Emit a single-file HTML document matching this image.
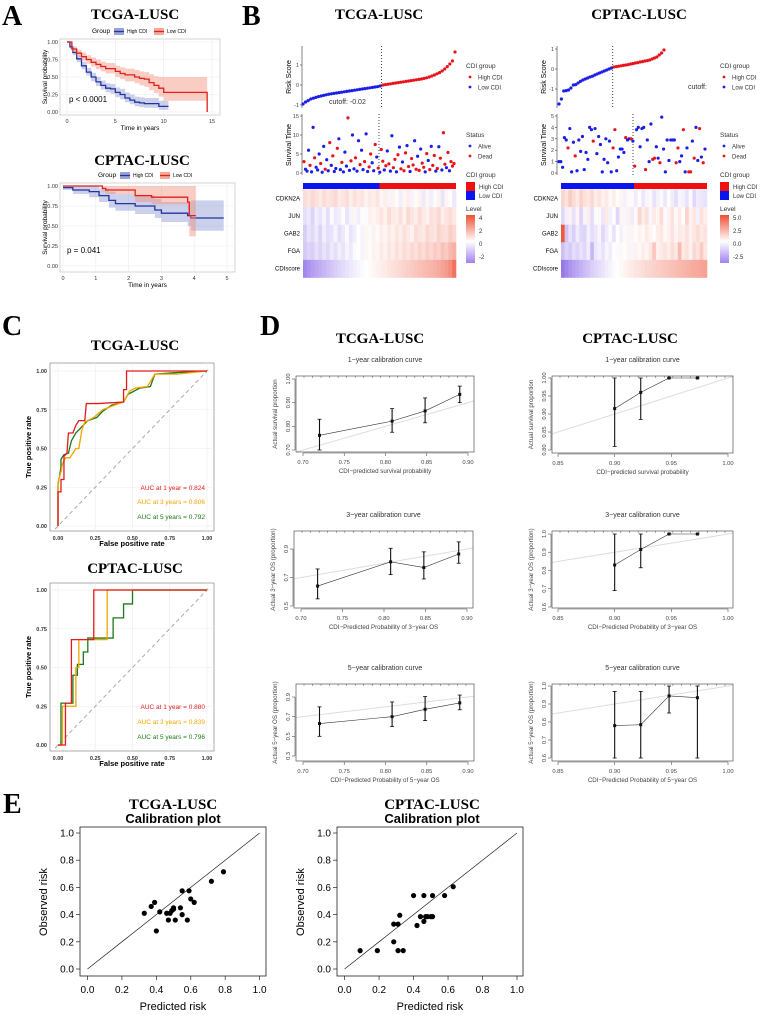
<!DOCTYPE html>
<html><head><meta charset="utf-8">
<style>
html,body{margin:0;padding:0;background:#fff;}
svg{display:block;font-family:"Liberation Sans",sans-serif;}
.ttl{font-family:"Liberation Serif",serif;font-weight:bold;font-size:15px;}
.let{font-family:"Liberation Serif",serif;font-weight:bold;font-size:28px;}
</style></head>
<body>
<svg id="fig" width="760" height="1015" viewBox="0 0 760 1015" xmlns="http://www.w3.org/2000/svg">
<text class="let" x="2" y="25">A</text>
<text class="let" x="242" y="25">B</text>
<text class="let" x="2" y="335">C</text>
<text class="let" x="260" y="335">D</text>
<text class="let" x="3" y="813">E</text>
<text class="ttl" x="135" y="19" text-anchor="middle">TCGA-LUSC</text>
<text class="ttl" x="142" y="165" text-anchor="middle">CPTAC-LUSC</text>
<text class="ttl" x="379" y="19" text-anchor="middle">TCGA-LUSC</text>
<text class="ttl" x="639" y="19" text-anchor="middle">CPTAC-LUSC</text>
<text class="ttl" x="135" y="350" text-anchor="middle">TCGA-LUSC</text>
<text class="ttl" x="135" y="573" text-anchor="middle">CPTAC-LUSC</text>
<text class="ttl" x="380" y="343" text-anchor="middle">TCGA-LUSC</text>
<text class="ttl" x="630" y="343" text-anchor="middle">CPTAC-LUSC</text>
<text class="ttl" x="173" y="809" text-anchor="middle">TCGA-LUSC</text>
<text class="ttl" x="432" y="809" text-anchor="middle">CPTAC-LUSC</text>
<text x="173" y="823" font-size="13" font-weight="bold" text-anchor="middle">Calibration plot</text>
<text x="432" y="823" font-size="13" font-weight="bold" text-anchor="middle">Calibration plot</text>
</svg>
<script>
// ---------- DATA ----------
const kmTcgaHiT=[0,0.3,0.6,1,1.5,2,2.5,3,3.5,4,4.5,5,5.5,6,6.5,7,7.5,8,9,9.5,10.5];
const kmTcgaHiS=[1,0.93,0.85,0.76,0.66,0.57,0.5,0.43,0.38,0.34,0.33,0.28,0.25,0.2,0.17,0.14,0.13,0.12,0.12,0.08,0.08];
const kmTcgaHiL=[1,0.9,0.81,0.71,0.61,0.52,0.44,0.37,0.32,0.28,0.26,0.21,0.18,0.14,0.11,0.08,0.07,0.06,0.06,0.03,0.03];
const kmTcgaHiU=[1,0.96,0.89,0.81,0.72,0.63,0.56,0.5,0.45,0.41,0.4,0.35,0.33,0.28,0.25,0.22,0.21,0.2,0.2,0.16,0.16];
const kmTcgaLoT=[0,0.5,1,1.5,2,2.5,3,3.5,4,5,5.5,6,7,7.5,8,8.5,9,9.5,10,14.5];
const kmTcgaLoS=[1,0.9,0.84,0.79,0.75,0.71,0.68,0.65,0.62,0.58,0.55,0.53,0.5,0.48,0.47,0.42,0.38,0.34,0.28,0.28];
const kmTcgaLoL=[1,0.86,0.79,0.73,0.69,0.65,0.61,0.58,0.55,0.5,0.47,0.44,0.41,0.38,0.36,0.31,0.27,0.22,0.16,0.16];
const kmTcgaLoU=[1,0.94,0.89,0.85,0.81,0.78,0.75,0.72,0.7,0.66,0.64,0.62,0.6,0.58,0.57,0.54,0.51,0.5,0.5,0.5];
const kmCpHiT=[0,0.3,0.8,1.1,1.4,1.6,2.2,2.8,3.0,3.8,3.9,4.9];
const kmCpHiS=[0.98,0.95,0.93,0.88,0.82,0.78,0.75,0.7,0.66,0.63,0.6,0.6];
const kmCpHiL=[0.95,0.9,0.86,0.8,0.73,0.69,0.65,0.6,0.55,0.5,0.44,0.44];
const kmCpHiU=[1,1,1,0.97,0.93,0.9,0.88,0.84,0.8,0.8,0.82,0.82];
const kmCpLoT=[0,1.2,1.3,2.2,2.7,3.8,3.85,4.05];
const kmCpLoS=[1,0.97,0.95,0.88,0.86,0.8,0.63,0.63];
const kmCpLoL=[1,0.93,0.9,0.8,0.77,0.7,0.37,0.37];
const kmCpLoU=[1,1,1,1,1,1,1,1];

const tcgaRisk=[-0.95,-0.85,-0.78,-0.7,-0.66,-0.62,-0.58,-0.55,-0.52,-0.49,-0.46,-0.44,-0.42,-0.4,-0.38,-0.36,-0.34,-0.32,-0.3,-0.28,-0.26,-0.24,-0.22,-0.2,-0.18,-0.16,-0.14,-0.12,-0.1,-0.08,-0.05,0.0,0.02,0.04,0.06,0.08,0.1,0.12,0.14,0.16,0.18,0.2,0.22,0.24,0.26,0.28,0.3,0.33,0.36,0.4,0.45,0.5,0.56,0.62,0.7,0.8,0.92,1.05,1.2,1.65];
const tcgaCutoff=-0.02;
const tcgaTime=[3,1,0.5,6,2,0.3,12,4,1.5,0.8,5,2.5,0.2,7,1,3.5,0.6,8,2,4.5,0.4,1.2,6.5,9,0.9,2.8,0.3,5.5,1.8,14.5,0.7,3.2,10,1.1,4,0.5,8.5,2.2,6,0.9,3,10.3,0.4,1.6,5,2.7,0.6,7.5,4.2,1.3,0.2,6.2,3.1,0.8,1.9,5.8,2.4,0.5,9.8,1.4,3.6,0.3,4.8,6.8,1.1,2.9,0.6,5.3,7.2,1.7,0.4,3.8,2.1,8.5,1,4.4,0.7,6.3,2.6,1.5,0.3,5.1,3.3,0.9,7,2,4.6,0.5,1.2,6.9,3.9,0.8,10.6,2.3,1.4,5.4,0.6,3,1.8,2.5];
const tcgaDead=[1,0,0,0,1,0,0,1,0,0,0,1,0,0,1,0,0,1,0,1,0,0,1,0,0,1,0,0,0,1,0,1,0,0,1,0,0,1,0,0,1,0,0,1,1,0,0,1,0,1,0,1,1,0,1,0,1,0,0,1,1,0,1,0,1,0,1,1,0,1,0,1,1,0,1,0,1,0,1,1,0,1,0,1,0,1,1,0,1,0,1,0,1,1,0,1,0,1,1,1];
const cpRisk=[-1.75,-1.5,-1.1,-1.08,-1.05,-0.95,-0.8,-0.78,-0.7,-0.62,-0.55,-0.5,-0.45,-0.4,-0.36,-0.3,-0.25,-0.2,-0.15,-0.1,-0.05,0.0,0.05,0.1,0.12,0.14,0.16,0.18,0.2,0.22,0.25,0.27,0.3,0.32,0.35,0.37,0.4,0.42,0.45,0.5,0.55,0.6,0.7,0.8,0.95];
const cpCutoff=0.08;
const cpTime=[1,1,0.5,3.1,2.9,2.2,3.9,0.1,2.7,1.5,0.2,2.9,1.9,3.2,0.3,1.8,1.2,4,3.8,2.8,3.9,1.7,3.2,2.5,0.1,1.2,3,0.9,2.8,0.1,2.2,3.8,0.2,1.4,2.1,2.1,1.8,3.1,2.9,3,3,2.8,0.6,3.8,4,2.3,3.9,4,0.3,2.9,1,4.3,1.2,1.3,2.3,1.3,0.9,4.9,2.1,0.1,2.9,1.1,2.9,2.9,2.9,0.9,2.2,1,1.5,3.8,0.1,2.2,0.1,0.1,2.8,1.3,4,1.1,3.9,1.4,0.9,2.1];
const cpDead=[0,0,0,0,0,1,0,0,0,1,0,0,0,0,0,0,0,0,0,1,0,0,0,0,0,0,0,0,0,0,1,1,0,0,0,0,0,1,0,0,1,0,1,0,0,0,0,0,1,0,0,0,1,1,0,0,1,0,0,0,0,0,0,0,0,1,1,0,0,1,0,0,1,1,0,1,0,0,1,0,1,0];

const geneNames=["CDKN2A","JUN","GAB2","FGA","CDIscore"];
const tcgaHeat=[
[0.8,0.6,0.9,0.7,0.5,0.8,0.6,0.7,0.9,0.5,0.6,0.8,0.4,0.7,0.5,0.6,0.3,0.5,0.4,0.6,0.2,0.4,-0.2,0.3,0.1,-0.3,0.2,0.4,-0.2,0.1,0.3,-0.4,0.2,-0.3,0.1,0.3,-0.5,0.2,0.0,-0.4],
[-0.6,-0.4,-0.8,-0.3,-0.5,-0.2,-0.6,-0.1,-0.4,-0.3,0.1,-0.5,-0.2,0.2,-0.3,0.1,-0.1,0.3,0.2,0.4,0.6,0.3,0.8,0.5,0.4,0.7,0.3,0.9,0.6,0.4,0.8,0.5,0.3,0.7,0.6,0.9,0.4,0.6,0.8,0.5],
[-0.9,-0.5,-0.7,-0.4,-0.8,-0.3,-0.6,-0.5,-0.2,-0.6,-0.4,-0.1,-0.5,-0.3,0.0,-0.2,0.2,-0.1,0.3,0.1,0.4,0.2,0.5,0.3,0.6,0.4,0.7,0.5,0.3,0.8,0.6,0.5,0.9,0.7,0.6,1.0,0.8,0.7,1.1,0.9],
[-1.0,-0.8,-0.9,-0.6,-0.8,-0.5,-0.7,-0.4,-0.6,-0.3,-0.5,-0.2,-0.4,-0.1,0.0,-0.2,0.2,0.1,0.3,0.2,0.5,0.3,0.6,0.4,0.7,0.5,0.8,0.6,0.9,0.7,1.0,0.8,1.1,0.9,1.2,1.0,1.4,1.2,1.6,1.8],
[-2.2,-2.0,-1.8,-1.65,-1.5,-1.35,-1.2,-1.05,-0.9,-0.78,-0.66,-0.54,-0.42,-0.3,-0.2,-0.1,0,0.1,0.2,0.3,0.4,0.5,0.6,0.7,0.8,0.9,1.0,1.1,1.2,1.3,1.4,1.5,1.6,1.7,1.8,1.95,2.1,2.3,2.6,3.2]];
const cpHeat=[
[1.2,0.8,1.5,1.0,0.6,1.3,0.9,0.7,1.1,0.5,0.8,0.4,0.6,0.2,0.5,0.1,0.3,-0.3,0.2,-0.1,-0.4,0.1,-0.5,-0.2,0.2,-0.6,-0.3,-0.1,-0.5,0.1,-0.4,-0.7,-0.2,-0.3,-0.6,-0.1,-0.8,-0.4,-0.5,-0.6],
[-0.8,-0.3,0.4,-0.6,0.3,-0.9,-0.2,0.5,-0.7,-0.1,0.2,-0.5,0.6,-0.3,0.1,-0.8,0.3,-0.2,0.4,-0.4,0.2,1.2,0.5,0.9,-0.2,0.6,0.3,1.0,-0.1,0.4,0.8,0.2,0.6,0.1,1.3,0.4,0.7,-0.3,0.9,0.5],
[4.8,-1.2,-0.6,-1.0,-0.4,-0.8,-0.9,-0.3,-0.7,-0.5,-0.2,-0.8,-0.4,-0.1,-0.6,0.0,-0.3,0.2,-0.2,0.3,0.1,0.4,0.2,0.6,0.3,0.1,0.5,0.7,0.2,0.4,0.8,0.3,0.6,0.5,0.9,0.4,0.7,1.0,0.6,0.8],
[-1.3,-0.9,-1.1,-0.7,-0.9,-0.6,-0.8,-0.4,-1.5,-0.5,-0.3,-0.6,-0.2,-0.4,0.0,-0.1,0.2,0.1,0.3,-0.2,0.4,0.2,0.5,0.3,0.7,1.6,0.4,0.6,0.8,0.5,1.0,0.7,2.0,0.6,0.9,0.4,1.1,0.8,1.5,0.7],
[-2.8,-2.5,-2.2,-2.0,-1.8,-1.6,-1.4,-1.2,-1.0,-0.85,-0.7,-0.55,-0.4,-0.25,-0.1,0.05,0.2,0.35,0.5,0.62,0.74,0.86,0.98,1.1,1.2,1.3,1.4,1.5,1.6,1.7,1.8,1.9,2.0,2.1,2.2,2.3,2.4,2.5,2.6,2.7]];

const rocTcgaRed=[[0,0],[0,0.22],[0.02,0.22],[0.02,0.3],[0.04,0.3],[0.04,0.45],[0.06,0.47],[0.07,0.6],[0.1,0.6],[0.12,0.65],[0.14,0.68],[0.18,0.68],[0.19,0.79],[0.27,0.79],[0.44,0.8],[0.44,0.88],[0.46,0.88],[0.46,1],[1,1]];
const rocTcgaOrange=[[0,0],[0,0.28],[0.02,0.35],[0.03,0.4],[0.05,0.44],[0.08,0.44],[0.1,0.47],[0.12,0.5],[0.14,0.5],[0.16,0.62],[0.18,0.67],[0.24,0.7],[0.3,0.75],[0.38,0.78],[0.44,0.8],[0.48,0.87],[0.52,0.89],[0.6,0.9],[0.65,0.98],[0.8,0.98],[1,1]];
const rocTcgaGreen=[[0,0],[0,0.27],[0.01,0.32],[0.02,0.38],[0.02,0.43],[0.04,0.46],[0.07,0.47],[0.09,0.55],[0.12,0.6],[0.15,0.63],[0.2,0.68],[0.26,0.7],[0.3,0.74],[0.36,0.78],[0.44,0.8],[0.47,0.85],[0.55,0.89],[0.62,0.9],[0.65,0.98],[0.8,0.99],[1,1]];
const rocCpRed=[[0,0],[0.05,0],[0.05,0.27],[0.09,0.27],[0.09,0.68],[0.24,0.68],[0.24,1],[1,1]];
const rocCpOrange=[[0,0],[0.03,0],[0.03,0.25],[0.12,0.25],[0.12,0.5],[0.14,0.5],[0.14,0.68],[0.33,0.68],[0.33,1],[1,1]];
const rocCpGreen=[[0,0],[0.02,0],[0.02,0.27],[0.1,0.27],[0.1,0.45],[0.13,0.45],[0.13,0.52],[0.17,0.52],[0.17,0.6],[0.2,0.6],[0.2,0.69],[0.37,0.69],[0.37,0.82],[0.44,0.82],[0.44,0.91],[0.5,0.91],[0.5,1],[1,1]];
const aucTcga=["AUC at 1 year = 0.824","AUC at 3 years = 0.806","AUC at 5 years = 0.792"];
const aucCp=["AUC at 1 year = 0.880","AUC at 3 years = 0.839","AUC at 5 years = 0.796"];

const calTcgaX=[0.72,0.808,0.848,0.89];
const calTcga1Y=[0.762,0.822,0.865,0.935], calTcga1Lo=[0.70,0.775,0.815,0.90], calTcga1Hi=[0.83,0.875,0.92,0.97];
const calTcga3Y=[0.64,0.81,0.77,0.865], calTcga3Lo=[0.55,0.72,0.69,0.80], calTcga3Hi=[0.76,0.905,0.88,0.95];
const calTcga5Y=[0.63,0.70,0.775,0.84], calTcga5Lo=[0.5,0.6,0.66,0.77], calTcga5Hi=[0.8,0.85,0.905,0.92];
const calCpX=[0.90,0.923,0.948,0.973];
const calCp1Y=[0.915,0.96,1.0,1.0], calCp1Lo=[0.81,0.885,1.0,1.0], calCp1Hi=[1,1,1,1];
const calCp3Y=[0.83,0.915,1.0,1.0], calCp3Lo=[0.69,0.815,1,1], calCp3Hi=[1,1,1,1];
const calCp5Y=[0.78,0.785,0.945,0.935], calCp5Lo=[0.6,0.6,0.85,0.6], calCp5Hi=[0.97,0.97,1,1];

const eTcgaPred=[0.33,0.37,0.39,0.40,0.42,0.46,0.47,0.48,0.49,0.50,0.50,0.51,0.54,0.55,0.55,0.58,0.59,0.60,0.62,0.72,0.79];
const eTcgaObs=[0.41,0.46,0.49,0.28,0.42,0.41,0.36,0.41,0.43,0.45,0.44,0.36,0.45,0.40,0.575,0.36,0.575,0.515,0.49,0.645,0.715];
const eCpPred=[0.09,0.19,0.285,0.285,0.31,0.32,0.31,0.34,0.40,0.42,0.44,0.46,0.46,0.47,0.48,0.50,0.51,0.51,0.58,0.63];
const eCpObs=[0.135,0.135,0.2,0.33,0.33,0.395,0.135,0.135,0.54,0.32,0.385,0.35,0.54,0.385,0.385,0.385,0.385,0.54,0.54,0.605];

// ---------- HELPERS ----------
const NS="http://www.w3.org/2000/svg";
const svg=document.getElementById("fig");
function add(p,tag,a,name){
  const e=document.createElementNS(NS,tag);
  for(const k in a) e.setAttribute(k,a[k]);
  
  
  p.appendChild(e); return e;
}
function txt(p,x,y,s,size,name,opts){
  const a={x:x,y:y,"font-size":size};
  if(opts) for(const k in opts) a[k]=opts[k];
  const t=add(p,"text",a,name); t.textContent=s; return t;
}
function lin(d0,d1,r0,r1){return v=>r0+(v-d0)*(r1-r0)/(d1-d0);}
function grp(name){return add(svg,"g",{},name);}

// ---------- KM ----------
function km(name,box,xs,ys,xt,yt,xlabs,series,pText,pPos){
  const g=grp(name);
  add(g,"rect",{x:box[0],y:box[1],width:box[2]-box[0],height:box[3]-box[1],fill:"#fff",stroke:"#bbb","stroke-width":0.6},"plot-panel");
  xt.forEach(v=>{add(g,"line",{x1:xs(v),x2:xs(v),y1:box[1],y2:box[3],stroke:"#ebebeb","stroke-width":0.6},"x-grid");});
  yt.forEach(v=>{add(g,"line",{x1:box[0],x2:box[2],y1:ys(v),y2:ys(v),stroke:"#ebebeb","stroke-width":0.6},"y-grid");});
  series.forEach(s=>{
    let up="",lo="";
    for(let i=0;i<s.t.length;i++){
      const x0=xs(s.t[i]), x1=xs(i<s.t.length-1?s.t[i+1]:s.t[i]);
      up+=(i?"L":"M")+x0+","+ys(s.u[i])+"L"+x1+","+ys(s.u[i]);
      lo="L"+x1+","+ys(s.l[i])+"L"+x0+","+ys(s.l[i])+lo;
    }
    add(g,"path",{d:up+lo+"Z",fill:s.band,"fill-opacity":0.45,stroke:"none"},"confidence-band");
    let d="";
    for(let i=0;i<s.t.length;i++){
      const x0=xs(s.t[i]), x1=xs(i<s.t.length-1?s.t[i+1]:s.t[i]);
      d+=(i?"L"+x0+","+ys(s.s[i]):"M"+x0+","+ys(s.s[i]))+"L"+x1+","+ys(s.s[i]);
    }
    if(s.end!==undefined) d+="L"+xs(s.t[s.t.length-1])+","+ys(s.end);
    add(g,"path",{d:d,fill:"none",stroke:s.col,"stroke-width":1.3},"survival-curve");
  });
  xt.forEach((v,i)=>{txt(g,xs(v),box[3]+8,xlabs[i],5.5,"x-tick-label",{"text-anchor":"middle",fill:"#333"});});
  yt.forEach(v=>{txt(g,box[0]-2,ys(v)+2,v.toFixed(2),5.5,"y-tick-label",{"text-anchor":"end",fill:"#333"});});
  txt(g,(box[0]+box[2])/2,box[3]+15,"Time in years",6.5,"x-axis-title",{"text-anchor":"middle"});
  const cy=(box[1]+box[3])/2;
  txt(g,box[0]-13,cy,"Survival probability",6.5,"y-axis-title",{"text-anchor":"middle",transform:"rotate(-90 "+(box[0]-13)+" "+cy+")"});
  txt(g,pPos[0],pPos[1],pText,8,"p-value",{});
}
function kmLegend(x,y){
  const g=grp("km-legend");
  txt(g,x,y+2,"Group",6.5,"legend-title",{});
  add(g,"rect",{x:x+22,y:y-3,width:10,height:7,fill:"#9aa3d6"},"legend-key-high");
  add(g,"line",{x1:x+22,x2:x+32,y1:y+0.5,y2:y+0.5,stroke:"#2333a0","stroke-width":1.3},"legend-line-high");
  txt(g,x+35,y+2,"High CDI",5,"legend-high",{});
  add(g,"rect",{x:x+62,y:y-3,width:10,height:7,fill:"#f4a99a"},"legend-key-low");
  add(g,"line",{x1:x+62,x2:x+72,y1:y+0.5,y2:y+0.5,stroke:"#e0201b","stroke-width":1.3},"legend-line-low");
  txt(g,x+75,y+2,"Low CDI",5,"legend-low",{});
}
kmLegend(92,31);
km("km-tcga",[60,39,220,115],lin(0,15,67,212),lin(0,1,112,42),[0,5,10,15],[0,0.25,0.5,0.75,1],["0","5","10","15"],
 [{t:kmTcgaHiT,s:kmTcgaHiS,l:kmTcgaHiL,u:kmTcgaHiU,col:"#2333a0",band:"#8c96d2"},
  {t:kmTcgaLoT,s:kmTcgaLoS,l:kmTcgaLoL,u:kmTcgaLoU,col:"#e0201b",band:"#f3907c",end:0}],"p < 0.0001",[69,102]);
kmLegend(98,175);
km("km-cptac",[60,183,235,272],lin(0,5,63,227),lin(0,1,266,186),[0,1,2,3,4,5],[0,0.25,0.5,0.75,1],["0","1","2","3","4","5"],
 [{t:kmCpHiT,s:kmCpHiS,l:kmCpHiL,u:kmCpHiU,col:"#2333a0",band:"#8c96d2"},
  {t:kmCpLoT,s:kmCpLoS,l:kmCpLoL,u:kmCpLoU,col:"#e0201b",band:"#f3907c"}],"p = 0.041",[67,253]);

// ---------- RISK PANELS ----------
function heatColor(v,max,min){
  if(v>=0){const f=Math.min(v/max,1);return "rgb("+Math.round(255-(255-238)*f)+","+Math.round(255-(255-80)*f)+","+Math.round(255-(255-55)*f)+")";}
  const f=Math.min(v/min,1);return "rgb("+Math.round(255-(255-150)*f)+","+Math.round(255-(255-120)*f)+","+Math.round(255-(255-235)*f)+")";
}
function riskPanel(name,o){
  const g=grp(name);
  const rx=lin(0,o.risk.length-1,o.rx0,o.rx1), ry=lin(o.ry[0],o.ry[1],o.ry[2],o.ry[3]);
  add(g,"line",{x1:o.ax,x2:o.ax,y1:46,y2:108,stroke:"#333","stroke-width":0.6},"risk-y-axis");
  o.rTicks.forEach(v=>{add(g,"line",{x1:o.ax-2,x2:o.ax,y1:ry(v),y2:ry(v),stroke:"#333","stroke-width":0.6},"risk-tick");
    txt(g,o.ax-3,ry(v)+2,String(v),5.5,"risk-tick-label",{"text-anchor":"end",fill:"#444"});});
  txt(g,o.ax-11,77,"Risk Score",7,"risk-y-title",{"text-anchor":"middle",transform:"rotate(-90 "+(o.ax-11)+" 77)"});
  let firstRed=o.risk.findIndex(v=>v>o.cut);
  o.risk.forEach((v,i)=>{add(g,"circle",{cx:rx(i),cy:ry(v),r:1.6,fill:v>o.cut?"#e8141c":"#1a1ee6"},"risk-point");});
  const dx=rx(firstRed-0.5);
  add(g,"line",{x1:dx,x2:dx,y1:46,y2:108,stroke:"#333","stroke-width":0.9,"stroke-dasharray":"1,2"},"risk-cutoff-line");
  txt(g,o.cutPos[0],o.cutPos[1],o.cutText,7,"cutoff-label",{fill:"#333"});
  const sx=lin(0,o.time.length-1,o.ax+2,o.hx1-2), sy=lin(0,o.tMax,173,116);
  add(g,"line",{x1:o.ax,x2:o.ax,y1:114,y2:175,stroke:"#333","stroke-width":0.6},"surv-y-axis");
  o.tTicks.forEach(v=>{add(g,"line",{x1:o.ax-2,x2:o.ax,y1:sy(v),y2:sy(v),stroke:"#333","stroke-width":0.6},"surv-tick");
    txt(g,o.ax-3,sy(v)+2,String(v),5.5,"surv-tick-label",{"text-anchor":"end",fill:"#444"});});
  txt(g,o.ax-11,145,"Survival Time",7,"surv-y-title",{"text-anchor":"middle",transform:"rotate(-90 "+(o.ax-11)+" 145)"});
  add(g,"line",{x1:o.sDot,x2:o.sDot,y1:114,y2:175,stroke:"#333","stroke-width":0.9,"stroke-dasharray":"1,2"},"surv-cutoff-line");
  o.time.forEach((v,i)=>{add(g,"circle",{cx:sx(i),cy:sy(v),r:1.6,fill:o.dead[i]?"#e8141c":"#1a1ee6"},"surv-point");});
  const split=o.hx0+(o.hx1-o.hx0)*o.splitFrac;
  add(g,"rect",{x:o.hx0,y:183,width:split-o.hx0,height:6,fill:"#0a14ee"},"group-bar-low");
  add(g,"rect",{x:split,y:183,width:o.hx1-split,height:6,fill:"#ee1010"},"group-bar-high");
  const rowH=17.6;
  o.heat.forEach((row,r)=>{
    const cw=(o.hx1-o.hx0)/row.length;
    row.forEach((v,c)=>{add(g,"rect",{x:o.hx0+c*cw,y:189.5+r*rowH,width:cw+0.3,height:rowH+0.3,fill:heatColor(v,o.hmax,o.hmin)},"heatmap-cell");});
    txt(g,o.hx0-3,189.5+r*rowH+rowH/2+2,geneNames[r],6,"gene-label",{"text-anchor":"end"});
  });
  const lx=o.lx;
  txt(g,lx,68,"CDI group",6.5,"legend-title-cdi",{fill:"#333"});
  add(g,"circle",{cx:lx+4,cy:77,r:1.4,fill:"#e8141c"},"legend-dot-high");
  txt(g,lx+12,79.5,"High CDI",6,"legend-high",{fill:"#333"});
  add(g,"circle",{cx:lx+4,cy:87,r:1.4,fill:"#1a1ee6"},"legend-dot-low");
  txt(g,lx+12,89.5,"Low CDI",6,"legend-low",{fill:"#333"});
  txt(g,lx,137,"Status",6.5,"legend-title-status",{fill:"#333"});
  add(g,"circle",{cx:lx+4,cy:146,r:1.4,fill:"#1a1ee6"},"legend-dot-alive");
  txt(g,lx+12,148.5,"Alive",6,"legend-alive",{fill:"#333"});
  add(g,"circle",{cx:lx+4,cy:156,r:1.4,fill:"#e8141c"},"legend-dot-dead");
  txt(g,lx+12,158.5,"Dead",6,"legend-dead",{fill:"#333"});
  txt(g,lx,177,"CDI group",6.5,"legend-title-cdi2",{fill:"#333"});
  add(g,"rect",{x:lx,y:182,width:9,height:9,fill:"#ee1010"},"legend-box-high");
  txt(g,lx+13,189,"High CDI",6,"legend-box-high-label",{fill:"#333"});
  add(g,"rect",{x:lx,y:191,width:9,height:9,fill:"#0a14ee"},"legend-box-low");
  txt(g,lx+13,198,"Low CDI",6,"legend-box-low-label",{fill:"#333"});
  txt(g,lx,211,"Level",6.5,"legend-title-level",{fill:"#333"});
  const gid="grad"+name;
  const defs=add(g,"defs",{},"defs");
  const lg=add(defs,"linearGradient",{id:gid,x1:0,y1:0,x2:0,y2:1},"level-gradient");
  add(lg,"stop",{offset:"0",  "stop-color":"#ee5037"},"stop");
  add(lg,"stop",{offset:"0.55","stop-color":"#ffffff"},"stop");
  add(lg,"stop",{offset:"1","stop-color":"#a282ee"},"stop");
  add(g,"rect",{x:lx,y:215,width:9,height:48,fill:"url(#"+gid+")"},"level-colorbar");
  o.lvl.forEach((s,i)=>{txt(g,lx+13,220+i*13,s,6,"level-label",{fill:"#333"});});
}
riskPanel("risk-tcga",{risk:tcgaRisk,cut:tcgaCutoff,rx0:303,rx1:455,ry:[0,1,85,65],ax:302,rTicks:[1,0,-1],
  cutPos:[329,104],cutText:"cutoff: -0.02",time:tcgaTime,dead:tcgaDead,tMax:15,tTicks:[15,10,5,0],sDot:379,
  hx0:303,hx1:456,splitFrac:0.5,heat:tcgaHeat,hmax:4,hmin:-2.5,lx:466,lvl:["4","2","0","-2"]});
riskPanel("risk-cptac",{risk:cpRisk,cut:cpCutoff,rx0:559,rx1:664,ry:[0,1,69,49],ax:557,rTicks:[1,0,-1],
  cutPos:[688,89],cutText:"cutoff:",time:cpTime,dead:cpDead,tMax:5,tTicks:[5,4,3,2,1,0],sDot:633,
  hx0:561,hx1:707,splitFrac:0.5,heat:cpHeat,hmax:5,hmin:-2.8,lx:720,lvl:["5.0","2.5","0.0","-2.5"]});

// ---------- ROC ----------
function roc(name,box,xs,ys,curves,aucs,aucY){
  const g=grp(name);
  add(g,"rect",{x:box[0],y:box[1],width:box[2]-box[0],height:box[3]-box[1],fill:"#fff",stroke:"#888","stroke-width":0.7},"roc-panel");
  const t=[0,0.25,0.5,0.75,1];
  t.forEach(v=>{add(g,"line",{x1:xs(v),x2:xs(v),y1:box[1],y2:box[3],stroke:"#ececec","stroke-width":0.6},"x-grid");
    add(g,"line",{x1:box[0],x2:box[2],y1:ys(v),y2:ys(v),stroke:"#ececec","stroke-width":0.6},"y-grid");
    txt(g,xs(v),box[3]+9,v.toFixed(2),5.5,"x-tick-label",{"text-anchor":"middle","font-weight":"bold",fill:"#333"});
    txt(g,box[0]-3,ys(v)+2,v.toFixed(2),5.5,"y-tick-label",{"text-anchor":"end","font-weight":"bold",fill:"#333"});});
  add(g,"line",{x1:xs(-0.02),y1:ys(-0.02),x2:xs(1.02),y2:ys(1.02),stroke:"#aaa","stroke-width":1,"stroke-dasharray":"4,3"},"diagonal-reference");
  const cols=["#e41a1c","#f5a300","#1a7a1a"];
  [2,1,0].forEach(k=>{
    const d=curves[k].map((p,i)=>(i?"L":"M")+xs(p[0])+","+ys(p[1])).join("");
    add(g,"path",{d:d,fill:"none",stroke:cols[k],"stroke-width":1.3},"roc-curve");
  });
  aucs.forEach((s,i)=>{txt(g,205,aucY[i],s,6.5,"auc-label",{"text-anchor":"end",fill:cols[i]});});
  txt(g,(box[0]+box[2])/2,box[3]+15,"False positive rate",7.5,"x-axis-title",{"text-anchor":"middle","font-weight":"bold"});
  const cy=(box[1]+box[3])/2;
  txt(g,31,cy,"True positive rate",7.5,"y-axis-title",{"text-anchor":"middle","font-weight":"bold",transform:"rotate(-90 31 "+cy+")"});
}
roc("roc-tcga",[50,363,214,531],lin(0,1,58,207),lin(0,1,526,371),[rocTcgaRed,rocTcgaOrange,rocTcgaGreen],aucTcga,[490,504,519]);
roc("roc-cptac",[50,583,214,751],lin(0,1,58,207),lin(0,1,745,590),[rocCpRed,rocCpOrange,rocCpGreen],aucCp,[709,724,739]);

// ---------- CALIBRATION CURVES ----------
let clipN=0;
function calib(name,box,xd,yd,xt,yt,xs,ys,Y,Lo,Hi,title,xlab,ylab,ydig){
  const g=grp(name);
  const X=xs.dom, sx=lin(xd[0],xd[1],xd[2],xd[3]), sy=lin(yd[0],yd[1],yd[2],yd[3]);
  txt(g,(box[0]+box[2])/2,box[1]-14,title,7,"calibration-title",{"text-anchor":"middle",fill:"#333"});
  const cid="clip"+(clipN++);
  const defs=add(g,"defs",{},"defs");
  const cp=add(defs,"clipPath",{id:cid},"clip-path");
  add(cp,"rect",{x:box[0],y:box[1],width:box[2]-box[0],height:box[3]-box[1]},"clip-rect");
  const a=0, b=1.2;
  add(g,"line",{x1:sx(a),y1:sy(a),x2:sx(b),y2:sy(b),stroke:"#ddd","stroke-width":1,"clip-path":"url(#"+cid+")"},"ideal-line");
  add(g,"rect",{x:box[0],y:box[1],width:box[2]-box[0],height:box[3]-box[1],fill:"none",stroke:"#555","stroke-width":0.7},"calibration-box");
  for(let i=0;i<20;i++){const xx=box[0]+8+i*(box[2]-box[0]-16)/19;add(g,"line",{x1:xx,x2:xx,y1:box[1],y2:box[1]+2,stroke:"#555","stroke-width":0.5},"rug-tick");}
  const d=X.map((v,i)=>(i?"L":"M")+sx(v)+","+sy(Y[i])).join("");
  add(g,"path",{d:d,fill:"none",stroke:"#333","stroke-width":0.6},"calibration-line");
  X.forEach((v,i)=>{
    add(g,"line",{x1:sx(v),x2:sx(v),y1:sy(Lo[i]),y2:sy(Hi[i]),stroke:"#111","stroke-width":1.1},"error-bar");
    add(g,"line",{x1:sx(v)-2,x2:sx(v)+2,y1:sy(Lo[i]),y2:sy(Lo[i]),stroke:"#111","stroke-width":0.8},"error-cap");
    add(g,"line",{x1:sx(v)-2,x2:sx(v)+2,y1:sy(Hi[i]),y2:sy(Hi[i]),stroke:"#111","stroke-width":0.8},"error-cap");
    add(g,"rect",{x:sx(v)-1.5,y:sy(Y[i])-1.5,width:3,height:3,fill:"#111"},"calibration-point");
  });
  xt.forEach(v=>{add(g,"line",{x1:sx(v),x2:sx(v),y1:box[3]+1,y2:box[3]+4,stroke:"#555","stroke-width":0.6},"x-tick");
    txt(g,sx(v),box[3]+12,v.toFixed(2),5.8,"x-tick-label",{"text-anchor":"middle",fill:"#444"});});
  add(g,"line",{x1:sx(xt[0]),x2:sx(xt[xt.length-1]),y1:box[3]+1,y2:box[3]+1,stroke:"#555","stroke-width":0.6},"x-axis");
  yt.forEach(v=>{add(g,"line",{x1:box[0]-4,x2:box[0]-1,y1:sy(v),y2:sy(v),stroke:"#555","stroke-width":0.6},"y-tick");
    txt(g,box[0]-6,sy(v),v.toFixed(ydig),5.8,"y-tick-label",{"text-anchor":"middle",fill:"#444",transform:"rotate(-90 "+(box[0]-6)+" "+sy(v)+")"});});
  add(g,"line",{x1:box[0]-1,x2:box[0]-1,y1:sy(yt[0]),y2:sy(yt[yt.length-1]),stroke:"#555","stroke-width":0.6},"y-axis");
  txt(g,(box[0]+box[2])/2,box[3]+21,xlab,6.2,"x-axis-title",{"text-anchor":"middle",fill:"#444"});
  const cy=(box[1]+box[3])/2;
  txt(g,box[0]-19,cy,ylab,6.2,"y-axis-title",{"text-anchor":"middle",fill:"#444",transform:"rotate(-90 "+(box[0]-19)+" "+cy+")"});
}
const xT=[0.70,0.75,0.80,0.85,0.90], xC=[0.85,0.90,0.95,1.00];
calib("cal-tcga-1y",[296,376,474,452],[0.7,0.9,303,468],[0.7,1,450,379],xT,[0.7,0.8,0.9,1.0],{dom:calTcgaX},0,calTcga1Y,calTcga1Lo,calTcga1Hi,"1\u2212year calibration curve","CDI\u2212predicted survival probability","Actual survival proportion",2);
calib("cal-cptac-1y",[552,376,733,453],[0.85,1,558,728],[0.8,1,450,378],xC,[0.8,0.85,0.9,0.95,1.0],{dom:calCpX},0,calCp1Y,calCp1Lo,calCp1Hi,"1\u2212year calibration curve","CDI\u2212predicted survival probability","Actual survival proportion",2);
calib("cal-tcga-3y",[294,531,473,608],[0.7,0.9,301,467],[0.5,0.9,606,549],xT,[0.5,0.7,0.9],{dom:calTcgaX},0,calTcga3Y,calTcga3Lo,calTcga3Hi,"3\u2212year calibration curve","CDI\u2212Predicted Probability of 3\u2212year OS","Actual 3\u2212year OS (proportion)",1);
calib("cal-cptac-3y",[552,531,733,608],[0.85,1,558,728],[0.6,1,607,534],xC,[0.6,0.7,0.8,0.9,1.0],{dom:calCpX},0,calCp3Y,calCp3Lo,calCp3Hi,"3\u2212year calibration curve","CDI\u2212Predicted Probability of 3\u2212year OS","Actual 3\u2212year OS (proportion)",1);
calib("cal-tcga-5y",[296,684,474,761],[0.7,0.9,303,468],[0.3,0.9,756,697],xT,[0.3,0.5,0.7,0.9],{dom:calTcgaX},0,calTcga5Y,calTcga5Lo,calTcga5Hi,"5\u2212year calibration curve","CDI\u2212Predicted Probability of 5\u2212year OS","Actual 5\u2212year OS (proportion)",1);
calib("cal-cptac-5y",[552,684,733,761],[0.85,1,558,728],[0.6,1,758,686],xC,[0.6,0.7,0.8,0.9,1.0],{dom:calCpX},0,calCp5Y,calCp5Lo,calCp5Hi,"5\u2212year calibration curve","CDI\u2212Predicted Probability of 5\u2212year OS","Actual 5\u2212year OS (proportion)",1);

// ---------- E ----------
function eplot(name,box,x0,x1,pred,obs){
  const g=grp(name);
  const sx=lin(0,1,x0,x1), sy=lin(0,1,969,833);
  add(g,"rect",{x:box[0],y:827,width:box[1]-box[0],height:149,fill:"none",stroke:"#222","stroke-width":0.8},"e-box");
  add(g,"line",{x1:sx(0),y1:sy(0),x2:sx(1),y2:sy(1),stroke:"#222","stroke-width":0.7},"e-diagonal");
  pred.forEach((v,i)=>{add(g,"circle",{cx:sx(v),cy:sy(obs[i]),r:2.6,fill:"#000"},"e-point");});
  [0,0.2,0.4,0.6,0.8,1].forEach(v=>{
    add(g,"line",{x1:sx(v),x2:sx(v),y1:976,y2:980,stroke:"#222","stroke-width":0.7},"x-tick");
    txt(g,sx(v),993,v.toFixed(1),10,"x-tick-label",{"text-anchor":"middle"});
    add(g,"line",{x1:box[0]-4,x2:box[0],y1:sy(v),y2:sy(v),stroke:"#222","stroke-width":0.7},"y-tick");
    txt(g,box[0]-6,sy(v)+3.5,v.toFixed(1),10,"y-tick-label",{"text-anchor":"end"});
  });
  txt(g,(box[0]+box[1])/2,1010,"Predicted risk",11,"x-axis-title",{"text-anchor":"middle"});
  const lx=box[0]-33;
  txt(g,lx,902,"Observed risk",11,"y-axis-title",{"text-anchor":"middle",transform:"rotate(-90 "+lx+" 902)"});
}
eplot("e-tcga",[80,266],87.5,259.6,eTcgaPred,eTcgaObs);
eplot("e-cptac",[337,523],344.6,517,eCpPred,eCpObs);
</script>
</body></html>
